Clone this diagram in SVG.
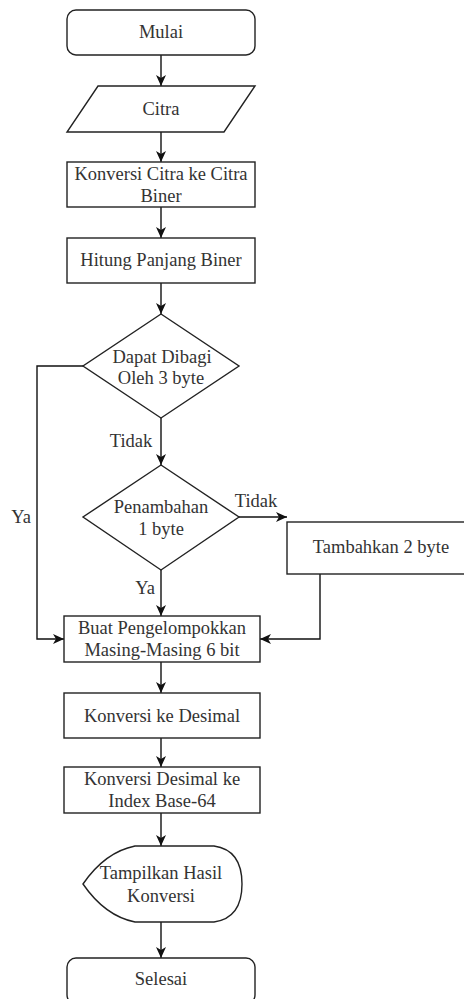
<svg xmlns="http://www.w3.org/2000/svg" width="464" height="999" viewBox="0 0 464 999" font-family="Liberation Serif, Times New Roman, Noto Serif, DejaVu Serif, serif">
<style>
.s{fill:#fff;stroke:#222;stroke-width:1.4}
.t{font-size:18.5px;fill:#333;text-anchor:middle;dominant-baseline:central}
.c{fill:none;stroke:#111;stroke-width:1.4}
</style>
<defs>
<marker id="a" markerWidth="12" markerHeight="10" refX="11" refY="5" orient="auto" markerUnits="userSpaceOnUse">
<path d="M0,0 L11,5 L0,10 L3,5 Z" fill="#111"/>
</marker>
</defs>
<rect width="464" height="999" fill="#fff"/>
<g id="connectors">
<path class="c" d="M161,55 V86" marker-end="url(#a)"/>
<path class="c" d="M161,132 V162" marker-end="url(#a)"/>
<path class="c" d="M161,207 V238" marker-end="url(#a)"/>
<path class="c" d="M161,283 V314" marker-end="url(#a)"/>
<path class="c" d="M161,418 V465" marker-end="url(#a)"/>
<path class="c" d="M239,517 H287" marker-end="url(#a)"/>
<path class="c" d="M161,570 V616" marker-end="url(#a)"/>
<path class="c" d="M83,366 H37 V639 H64" marker-end="url(#a)"/>
<path class="c" d="M320,574 V639 H260" marker-end="url(#a)"/>
<path class="c" d="M161,662 V693" marker-end="url(#a)"/>
<path class="c" d="M161,738 V767" marker-end="url(#a)"/>
<path class="c" d="M161,813 V846" marker-end="url(#a)"/>
<path class="c" d="M161,922 V958" marker-end="url(#a)"/>
<text class="t" x="131" y="441">Tidak</text>
<text class="t" x="256" y="501">Tidak</text>
<text class="t" x="21" y="517">Ya</text>
<text class="t" x="145" y="588">Ya</text>
</g>
<g id="mulai"><rect class="s" x="67" y="10" width="188" height="45" rx="9"/><text class="t" x="161" y="32">Mulai</text></g>
<g id="citra"><path class="s" d="M98,86 H255 L224,132 H67 Z"/><text class="t" x="161" y="109">Citra</text></g>
<g id="konversi-biner"><rect class="s" x="67" y="162" width="188" height="45"/><text class="t" x="161" y="174">Konversi Citra ke Citra</text><text class="t" x="161" y="196">Biner</text></g>
<g id="hitung"><rect class="s" x="67" y="238" width="188" height="45"/><text class="t" x="161" y="260">Hitung Panjang Biner</text></g>
<g id="dibagi"><path class="s" d="M161,314 L239,366 L161,418 L83,366 Z"/><text class="t" x="162" y="357">Dapat Dibagi</text><text class="t" x="161" y="378">Oleh 3 byte</text></g>
<g id="penambahan"><path class="s" d="M161,465 L239,517 L161,570 L83,517 Z"/><text class="t" x="161" y="507">Penambahan</text><text class="t" x="161" y="529">1 byte</text></g>
<g id="tambahkan"><rect class="s" x="287" y="522" width="190" height="52"/><text class="t" x="381" y="547">Tambahkan 2 byte</text></g>
<g id="pengelompokkan"><rect class="s" x="64" y="616" width="196" height="46"/><text class="t" x="162" y="628">Buat Pengelompokkan</text><text class="t" x="162" y="650">Masing-Masing 6 bit</text></g>
<g id="desimal"><rect class="s" x="64" y="693" width="196" height="45"/><text class="t" x="162" y="716">Konversi ke Desimal</text></g>
<g id="index"><rect class="s" x="64" y="767" width="196" height="46"/><text class="t" x="162" y="779">Konversi Desimal ke</text><text class="t" x="162" y="801">Index Base-64</text></g>
<g id="tampilkan"><path class="s" d="M83,884 Q105,852 135,846 L214,846 Q242,850 242,884 Q242,918 214,922 L135,922 Q105,916 83,884 Z"/><text class="t" x="161" y="873">Tampilkan Hasil</text><text class="t" x="161" y="896">Konversi</text></g>
<g id="selesai"><rect class="s" x="67" y="958" width="188" height="46" rx="9"/><text class="t" x="161" y="979">Selesai</text></g>
</svg>
